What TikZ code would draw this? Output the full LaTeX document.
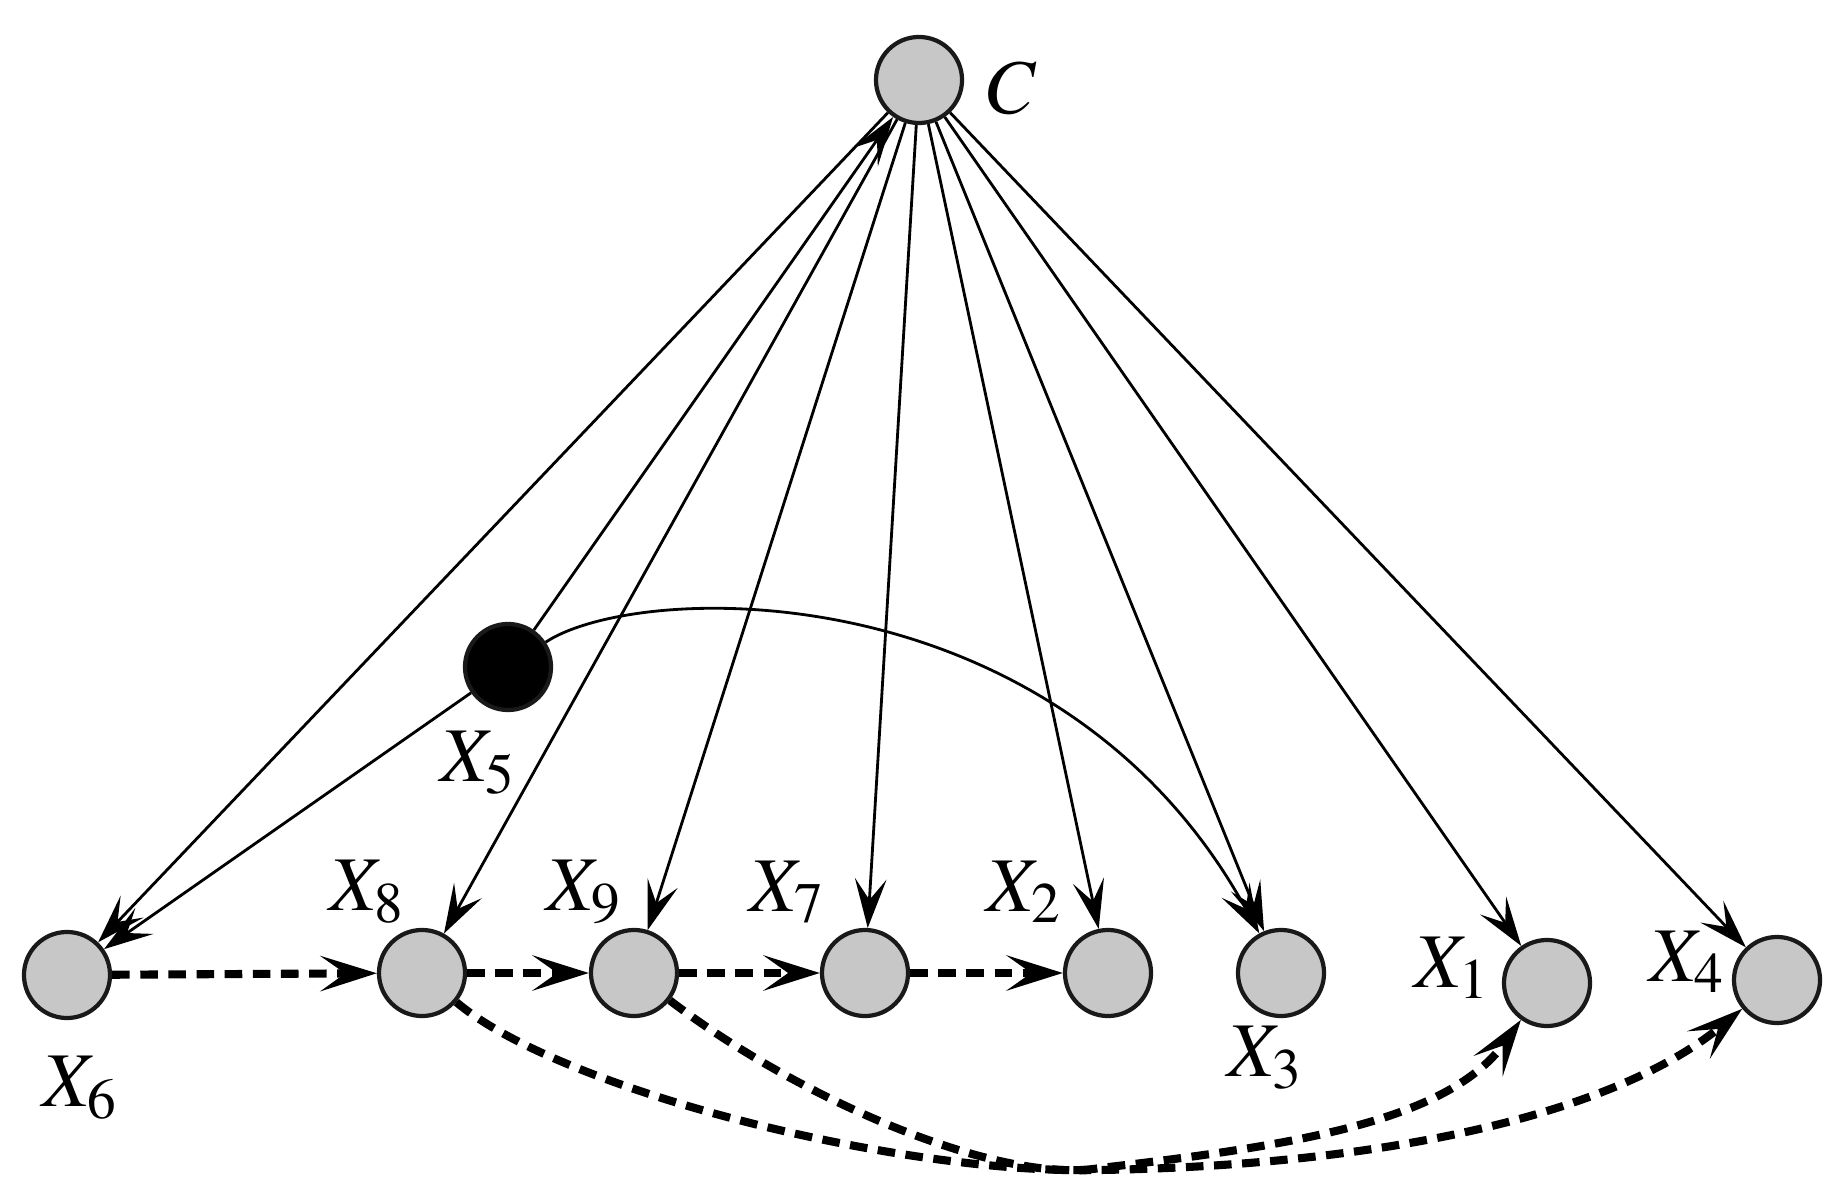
\documentclass[tikz,border=0pt]{standalone}
\usepackage{mathptmx}
\usetikzlibrary{arrows.meta}
\begin{document}
\begin{tikzpicture}[x=0.01cm,y=-0.01cm,
 nd/.style={circle,draw=black!90,line width=1.2pt,fill=black!22,minimum size=0.86cm,inner sep=0pt},
 lb/.style={font=\fontsize{22}{26}\selectfont,inner sep=0pt},
 ed/.style={line width=0.8pt,-{Stealth[length=14pt,width=9pt,inset=6pt]}},
 dd/.style={line width=2.3pt,dash pattern=on 5pt off 3pt,-{Stealth[length=16pt,width=10pt,inset=7pt]}}]
\useasboundingbox (0,0) rectangle (1840,1201);
\node[nd] (C) at (919,80) {};
\node[nd,fill=black] (X5) at (508,667) {};
\node[nd] (X6) at (67,975) {};
\node[nd] (X8) at (422,973) {};
\node[nd] (X9) at (634,973) {};
\node[nd] (X7) at (865,973) {};
\node[nd] (X2) at (1108,973) {};
\node[nd] (X3) at (1281,973) {};
\node[nd] (X1) at (1547,983) {};
\node[nd] (X4) at (1777,980) {};
\node[lb] (lC) at (1012,88) {$C$};
\node[lb] (l5) at (478,763) {$X_5$};
\node[lb] (l6) at (80,1088) {$X_6$};
\node[lb] (l8) at (367,892) {$X_8$};
\node[lb] (l9) at (584,892) {$X_9$};
\node[lb] (l7) at (787,892) {$X_7$};
\node[lb] (l2) at (1024,892) {$X_2$};
\node[lb] (l3) at (1265,1058) {$X_3$};
\node[lb] (l1) at (1452,968) {$X_1$};
\node[lb] (l4) at (1687,962) {$X_4$};
\foreach \t in {X6,X8,X9,X7,X2,X3,X1,X4} \draw[ed] (C) -- (\t);
\draw[ed] (X5) -- (C);
\draw[ed] (X5) -- (X6);
\draw[ed] (X5) .. controls (640,580) and (1060,570) .. (X3);
\draw[dd] (X6) -- (X8);
\draw[dd] (X8) -- (X9);
\draw[dd] (X9) -- (X7);
\draw[dd] (X7) -- (X2);
\draw[dd] (X9) .. controls (800,1100) and (1000,1185) .. (1100,1168) .. controls (1300,1145) and (1450,1120) .. (X1);
\draw[dd] (X8) .. controls (560,1090) and (900,1175) .. (1100,1170) .. controls (1400,1165) and (1620,1110) .. (X4);
\end{tikzpicture}
\end{document}
